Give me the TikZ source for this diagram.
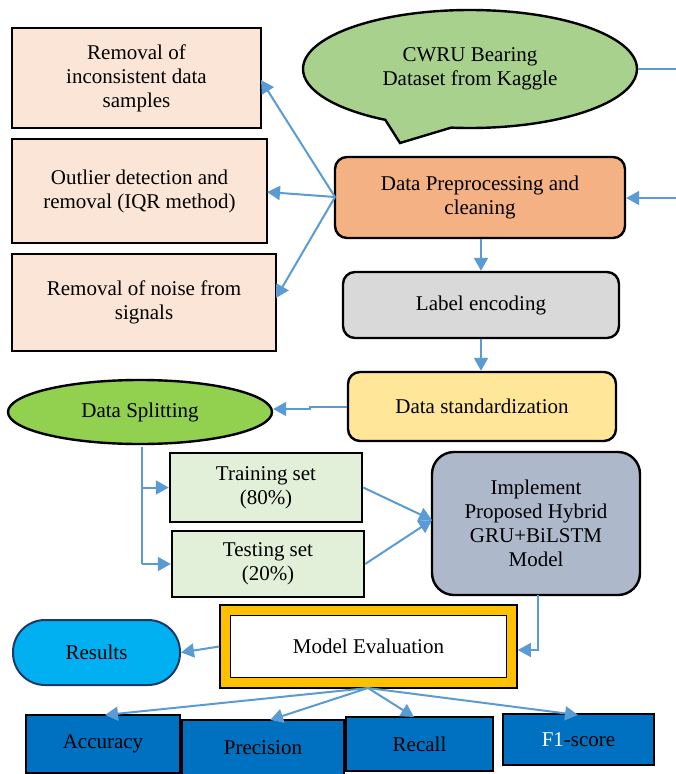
\documentclass[tikz,border=0pt]{standalone}
\usepackage{fontspec}
\setmainfont{Liberation Serif}
\usetikzlibrary{arrows.meta,shapes.geometric,shapes.callouts}
\definecolor{peach}{HTML}{FBE5D6}
\definecolor{leaf}{HTML}{A9D18E}
\definecolor{orng}{HTML}{F4B183}
\definecolor{grayb}{HTML}{D9D9D9}
\definecolor{yelw}{HTML}{FFE699}
\definecolor{lime}{HTML}{92D050}
\definecolor{palegreen}{HTML}{E2F0D9}
\definecolor{bluegray}{HTML}{ADB9CA}
\definecolor{gold}{HTML}{FFC000}
\definecolor{sky}{HTML}{00B0F0}
\definecolor{darkblue}{HTML}{0070C0}
\definecolor{navy}{HTML}{1F3864}
\definecolor{arrowblue}{HTML}{5B9BD5}
\tikzset{
  base/.style={draw=black, line width=2.4pt, inner sep=0pt, align=center, font=\rmfamily\fontsize{21}{24}\selectfont},
  sqbox/.style={base, rectangle},
  rbox/.style={base, rectangle, rounded corners=12pt},
  metric/.style={base, rectangle, fill=darkblue, line width=2pt},
  conn/.style={draw=arrowblue, line width=2pt},
  arr/.style={conn, -{Triangle[length=13pt,width=14pt]}},
}
\begin{document}
\begin{tikzpicture}[x=1pt,y=-1pt]
\useasboundingbox (0,0) rectangle (675,774);
% left boxes
\node[sqbox, fill=peach, minimum width=249pt, minimum height=100pt] (rem1) at (136.5,78) {Removal of\\inconsistent data\\samples};
\node[sqbox, fill=peach, minimum width=255pt, minimum height=104pt] (rem2) at (139.5,191) {Outlier detection and\\removal (IQR method)};
\node[sqbox, fill=peach, minimum width=264pt, minimum height=97pt] (rem3) at (144,302.5) {Removal of noise from\\signals};
% dataset callout
\node[base, ellipse callout, fill=leaf, minimum width=334pt, minimum height=118pt, callout absolute pointer={(400,143)}, callout pointer arc=24] (data) at (470,69) {CWRU Bearing\\Dataset from Kaggle};
% main chain
\node[rbox, fill=orng, minimum width=290pt, minimum height=81pt] (pre) at (480,197.5) {Data Preprocessing and\\cleaning};
\node[rbox, fill=grayb, minimum width=276pt, minimum height=66pt] (lab) at (481,305) {Label encoding};
\node[rbox, fill=yelw, minimum width=268pt, minimum height=69pt] (std) at (482,406.5) {Data standardization};
\node[base, ellipse, fill=lime, minimum width=264pt, minimum height=64pt] (split) at (140,412) {Data Splitting};
\node[sqbox, fill=palegreen, minimum width=192pt, minimum height=69pt] (train) at (266,487.5) {Training set\\(80\%)};
\node[sqbox, fill=palegreen, minimum width=192pt, minimum height=66pt] (test) at (268,564) {Testing set\\(20\%)};
\node[base, rectangle, rounded corners=22pt, fill=bluegray, minimum width=208pt, minimum height=143pt] (impl) at (536,523.5) {Implement\\Proposed Hybrid\\GRU+BiLSTM\\Model};
% evaluation
\node[draw=black, line width=1.5pt, fill=gold, minimum width=297pt, minimum height=83pt, inner sep=0pt] (eval) at (368.5,646.5) {};
\node[base, line width=1.8pt, fill=white, minimum width=276pt, minimum height=62pt] (evalin) at (368.5,646.5) {Model Evaluation};
\node[base, draw=navy, line width=2pt, fill=sky, rounded corners=32pt, minimum width=167pt, minimum height=65pt] (res) at (96.5,652.5) {Results};
% metrics
\node[metric, minimum width=154pt, minimum height=58pt] (acc) at (103,744) {Accuracy};
\node[metric, minimum width=162pt, minimum height=56pt] (prec) at (263,748) {Precision};
\node[metric, minimum width=147pt, minimum height=54pt] (rec) at (419.5,744) {Recall};
\node[metric, minimum width=151pt, minimum height=51pt] (f1) at (578.5,739.5) {{\color{white}F1}-score};
% connectors
\coordinate (rt1) at (700,69);
\coordinate (rt2) at (700,198);
\draw[conn] (data.east) -- (rt1) -- (rt2);
\draw[arr] (rt2) -- (pre.east |- rt2);
\coordinate (pw) at (335,197);
\draw[arr] (pw) -- (261,80);
\draw[arr] (pw) -- (267,192);
\draw[arr] (pw) -- (276,298);
\draw[arr] (pre.south -| lab.north) -- (lab.north);
\draw[arr] (lab.south) -- (std.north -| lab.south);
\coordinate (j1) at (310,406.5);
\coordinate (j2) at (310,409);
\draw[arr] (std.west) -- (j1) -- (j2) -- (split.east |- j2);
\coordinate (sb) at (142,447);
\coordinate (sm) at (142,487.5);
\coordinate (sl) at (142,564);
\draw[conn] (sb) -- (sl);
\draw[arr] (sm) -- (train.west |- sm);
\draw[arr] (sl) -- (test.west);
\coordinate (im) at (432,520);
\draw[arr] (train.east) -- (im);
\draw[arr] (test.east) -- (im);
\coordinate (ib) at (538,595);
\coordinate (ic) at (538,650);
\draw[draw=arrowblue, line width=1.3pt, -{Triangle[length=13pt,width=14pt]}] (ib) -- (ic) -- (eval.east |- ic);
\draw[arr] (eval.west) -- (res.east);
\coordinate (eb) at (368,688);
\draw[arr] (eb) -- (105,715);
\draw[arr] (eb) -- (270,720);
\draw[arr] (eb) -- (414,717);
\draw[arr] (eb) -- (578,715);
\end{tikzpicture}
\end{document}
